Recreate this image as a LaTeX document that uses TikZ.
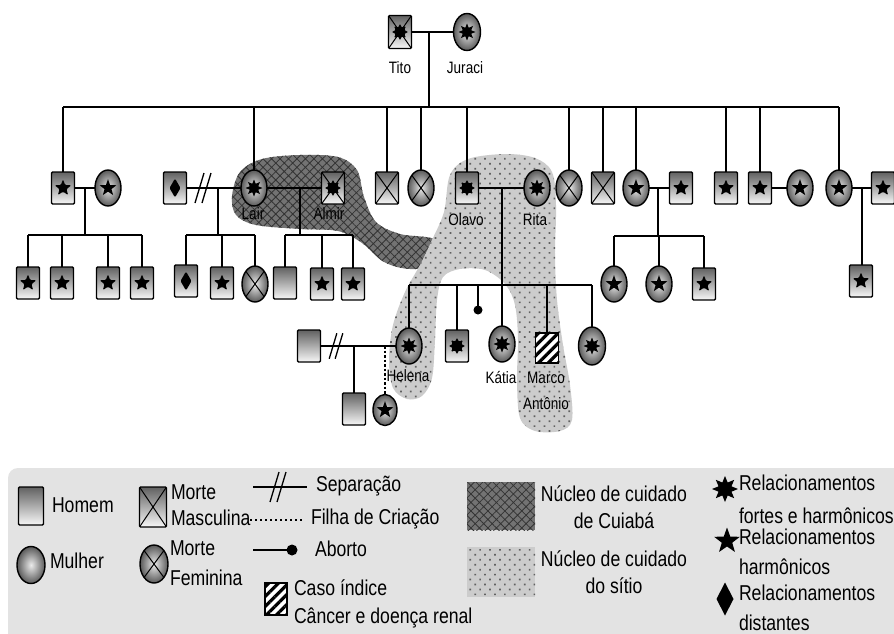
\documentclass[tikz,border=0pt]{standalone}
\usepackage{fontspec}
\setmainfont{Liberation Sans}[FakeStretch=0.82]
\usetikzlibrary{shapes.geometric,patterns.meta}
\newcommand\fivestar[3]{\fill[black,shift={#1}] (90:#2pt) \foreach \k in {1,...,9}{ -- ({90+\k*36}:{(mod(\k,2)==1?#3:#2)*1pt}) } -- cycle;}
\newcommand\eightstar[3]{\fill[black,shift={#1}] (90:#2pt) \foreach \k in {1,...,15}{ -- ({90+\k*22.5}:{(mod(\k,2)==1?#3:#2)*1pt}) } -- cycle;}
\newcommand\diamondsym[3]{\fill[black,shift={#1}] (0pt,#3pt) -- (#2pt,0pt) -- (0pt,-#3pt) -- (-#2pt,0pt) -- cycle;}
\tikzset{
  every node/.style={inner sep=0pt, outer sep=0pt},
  conn/.style={line width=1.5pt},
  male/.style={draw, line width=1.4pt, rounded corners=1.2pt, minimum width=23pt, minimum height=32pt, top color=black!62, bottom color=black!3},
  female/.style={draw, ellipse, line width=1.4pt, minimum width=26pt, minimum height=36pt, inner color=black!8, outer color=black!65},
  wstar/.style={path picture={\fivestar{(path picture bounding box.center)}{8.8}{3.6}}},
  wburst/.style={path picture={\eightstar{(path picture bounding box.center)}{8.5}{4.6}}},
  wdiam/.style={path picture={\diamondsym{(path picture bounding box.center)}{5.5}{9.5}}},
  wcross/.style={path picture={\draw[line width=1pt] (path picture bounding box.north west) -- (path picture bounding box.south east) (path picture bounding box.north east) -- (path picture bounding box.south west);}},
  wcrossburst/.style={path picture={\draw[line width=1pt] (path picture bounding box.north west) -- (path picture bounding box.south east) (path picture bounding box.north east) -- (path picture bounding box.south west); \eightstar{(path picture bounding box.center)}{8.5}{4.6}}},
  hatched/.style={draw, line width=1.4pt, minimum width=23pt, minimum height=30pt, preaction={fill=white}, pattern={Lines[angle=45,distance=7pt,line width=3.2pt]}},
  nm/.style={font=\fontsize{16.5}{18}\selectfont},
  lg/.style={font=\fontsize{21.5}{#1}\selectfont, anchor=west, align=left},
  lgc/.style={font=\fontsize{21.5}{#1}\selectfont, align=center},
  darkblob/.style={fill=black!55, postaction={pattern={Hatch[angle=45,distance=6pt,line width=0.8pt]}, pattern color=black!80}},
  lightblob/.style={fill=black!20, postaction={pattern={Dots[angle=45,distance=7pt,radius=1.2pt]}, pattern color=black!62}},
  sepmark/.pic={\draw[line width=1.3pt] (-8,15) -- (1,-15) (-1,15) -- (8,-15);},
}
\begin{document}
\begin{tikzpicture}[x=1pt,y=-1pt]
\useasboundingbox (0,0) rectangle (894,634);
\fill[white] (0,0) rectangle (894,634);
% care nuclei
\path[darkblob] plot[smooth cycle, tension=0.55] coordinates {(232,196) (240,172) (262,159) (300,155) (338,157) (357,170) (364,197) (376,222) (400,234) (436,240) (438,264) (410,269) (384,262) (362,243) (338,231) (300,229) (256,225) (236,215)};
\path[lightblob] plot[smooth cycle, tension=0.55] coordinates {(450,175) (468,159) (505,154) (535,158) (552,172) (556,205) (555,255) (557,300) (563,345) (570,385) (572,420) (560,431) (535,431) (520,418) (517,380) (518,340) (515,305) (505,284) (485,270) (460,269) (443,277) (437,300) (435,340) (432,378) (422,396) (407,399) (393,388) (389,360) (393,325) (405,292) (420,265) (432,240) (444,212)};

% generation 1
\node[male, wcrossburst, minimum height=33pt] (tito) at (400,32) {};
\node[female, wburst, minimum width=27pt, minimum height=37pt] (juraci) at (467,32) {};
\node[nm] (tito-l) at (400,68) {Tito};
\node[nm] (juraci-l) at (465,68) {Juraci};

% generation 2
\node[male, wstar] (a1) at (63,188) {};
\node[female, wstar] (a1w) at (108,188) {};
\node[male, wdiam] (b0) at (175,188) {};
\node[female, wburst] (lair) at (254,188) {};
\node[male, wcrossburst] (almir) at (333,188) {};
\node[male, wcross] (d1) at (387,188) {};
\node[female, wcross] (d2) at (421,188) {};
\node[male, wburst] (olavo) at (467,188) {};
\node[female, wburst] (rita) at (537,188) {};
\node[female, wcross] (d3) at (569,188) {};
\node[male, wcross] (d4) at (603,188) {};
\node[female, wstar] (e1) at (636,188) {};
\node[male, wstar] (e1h) at (681,188) {};
\node[male, wstar] (f1) at (726,188) {};
\node[male, wstar] (g1) at (760,188) {};
\node[female, wstar] (g1w) at (800,188) {};
\node[female, wstar] (h1) at (839,188) {};
\node[male, wstar] (h1h) at (883,188) {};
\node[nm] (lair-l) at (253,214) {Lair};
\node[nm] (almir-l) at (329,214) {Almir};
\node[nm] (olavo-l) at (466,220) {Olavo};
\node[nm] (rita-l) at (535,220) {Rita};

% generation 3
\node[male, wstar] (a2) at (28,283) {};
\node[male, wstar] (a3) at (62,283) {};
\node[male, wstar] (a4) at (108,283) {};
\node[male, wstar] (a5) at (142,283) {};
\node[male, wdiam] (b1) at (186,281) {};
\node[male, wstar] (b2) at (222,283) {};
\node[female, wcross] (b3) at (255,284) {};
\node[male] (c1) at (285,283) {};
\node[male, wstar] (c2) at (322,284) {};
\node[male, wstar] (c3) at (353,284) {};
\node[female, wstar] (e2) at (614,284) {};
\node[female, wstar] (e3) at (659,284) {};
\node[male, wstar] (e4) at (704,284) {};
\node[male, wstar] (h2) at (861,281) {};
\node[female, wburst] (helena) at (409,346) {};
\node[male, wburst] (k1) at (457,346) {};
\node[circle, fill=black, minimum size=9pt] (abo) at (478,310) {};
\node[female, wburst] (katia) at (502,344) {};
\node[hatched] (marco) at (547,348) {};
\node[female, wburst, minimum width=27pt, minimum height=38pt] (k5) at (592,346) {};
\node[male] (hx) at (309,346) {};
\node[nm] (helena-l) at (408,376) {Helena};
\node[nm] (katia-l) at (501,378) {Kátia};
\node[nm, align=center, font=\fontsize{16.5}{26}\selectfont] (marco-l) at (546,391) {Marco\\Antônio};

% generation 4
\node[male] (hx1) at (354,409) {};
\node[female, wstar, minimum width=24pt, minimum height=31pt] (hx2) at (385,410) {};

% connectors: generation 1
\draw[conn] (tito) -- (juraci);
\coordinate (tj) at (429,32);
\coordinate (sib) at (0,107);
\draw[conn] (tj) -- (tj |- sib);
\draw[conn] (a1.north |- sib) -- (h1.north |- sib);
\foreach \n in {a1,lair,d1,d2,olavo,d3,d4,e1,f1,g1,h1} \draw[conn] (\n.north) -- (\n.north |- sib);

% family a
\draw[conn] (a1) -- (a1w);
\coordinate (ad) at (85,188);
\coordinate (abar) at (0,235);
\draw[conn] (ad) -- (ad |- abar);
\draw[conn] (a2.north |- abar) -- (a5.north |- abar);
\foreach \n in {a2,a3,a4,a5} \draw[conn] (\n.north) -- (\n.north |- abar);

% family b
\draw[conn] (b0) -- (lair);
\path (203,188) pic {sepmark};
\coordinate (bd) at (218,188);
\draw[conn] (bd) -- (bd |- abar);
\draw[conn] (b1.north |- abar) -- (b3.north |- abar);
\foreach \n in {b1,b2,b3} \draw[conn] (\n.north) -- (\n.north |- abar);

% family c
\draw[conn] (lair) -- (almir);
\coordinate (cd) at (300,188);
\draw[conn] (cd) -- (cd |- abar);
\draw[conn] (c1.north |- abar) -- (c3.north |- abar);
\foreach \n in {c1,c2,c3} \draw[conn] (\n.north) -- (\n.north |- abar);

% family e
\draw[conn] (e1) -- (e1h);
\coordinate (ed) at (658,188);
\coordinate (ebar) at (0,236);
\draw[conn] (ed) -- (ed |- ebar);
\draw[conn] (e2.north |- ebar) -- (e4.north |- ebar);
\foreach \n in {e2,e3,e4} \draw[conn] (\n.north) -- (\n.north |- ebar);

% couples g, h
\draw[conn] (g1) -- (g1w);
\draw[conn] (h1) -- (h1h);
\coordinate (hd) at (862,188);
\draw[conn] (hd) -- (hd |- h2.north);

% family olavo-rita
\draw[conn] (olavo) -- (rita);
\coordinate (od) at (502,188);
\coordinate (obar) at (0,285);
\draw[conn] (od) -- (od |- obar);
\draw[conn] (helena.north |- obar) -- (k5.north |- obar);
\foreach \n in {helena,k1,katia,marco,k5} \draw[conn] (\n.north) -- (\n.north |- obar);
\draw[conn] (abo) -- (abo |- obar);

% family helena
\draw[conn] (hx) -- (helena);
\path (336,346) pic[scale=0.85] {sepmark};
\coordinate (hd1) at (354,346);
\draw[conn] (hd1) -- (hd1 |- hx1.north);
\coordinate (hd2) at (385,346);
\draw[conn, dash pattern=on 2.5pt off 2pt] (hd2) -- (hd2 |- hx2.north);

% legend
\fill[black!11, rounded corners=10pt] (8,468) rectangle (910,650);
\node[male, minimum width=25pt, minimum height=38pt] (lgm) at (31,506) {};
\node[lg=24] (lgm-t) at (52,505) {Homem};
\node[female, minimum width=28pt, minimum height=37pt] (lgf) at (31,565) {};
\node[lg=24] (lgf-t) at (50,561) {Mulher};
\node[male, wcross, minimum width=27pt, minimum height=40pt] (lgdm) at (153,507) {};
\node[lg=26] (lgdm-t) at (171,505) {Morte\\Masculina};
\node[female, wcross, minimum width=28pt, minimum height=38pt] (lgdf) at (154,564) {};
\node[lg=30] (lgdf-t) at (170,563) {Morte\\Feminina};
\coordinate (lgs0) at (253,487);
\coordinate (lgs1) at (307,487);
\draw[conn] (lgs0) -- (lgs1);
\path (278,487) pic {sepmark};
\node[lg=24] (lgs-t) at (316,486) {Separação};
\coordinate (lgd0) at (250,520);
\coordinate (lgd1) at (303,520);
\draw[line width=1.2pt, dash pattern=on 2pt off 3pt] (lgd0) -- (lgd1);
\node[lg=24] (lgd-t) at (311,519) {Filha de Criação};
\node[circle, fill=black, minimum size=11pt] (lgab) at (292,550) {};
\coordinate (lgab0) at (253,550);
\draw[conn] (lgab0) -- (lgab);
\node[lg=24] (lgab-t) at (315,549) {Aborto};
\node[hatched, minimum width=22pt, minimum height=32pt] (lgh) at (276,599) {};
\node[lg=28] (lgh-t) at (294,604) {Caso índice\\Câncer e doença renal};
\path[darkblob] (467,482) rectangle (535,530);
\node[lgc=27] (lgdark-t) at (614,507) {Núcleo de cuidado\\de Cuiabá};
\path[lightblob] (467,547) rectangle (535,597);
\node[lgc=27] (lglight-t) at (614,572) {Núcleo de cuidado\\do sítio};
\eightstar{(725,489)}{13}{7}
\node[lg=33] (lgb-t) at (739,499) {Relacionamentos\\fortes e harmônicos};
\fivestar{(727,541)}{13.5}{5.5}
\node[lg=30] (lgst-t) at (739,552) {Relacionamentos\\harmônicos};
\diamondsym{(725,599)}{8.5}{16.5}
\node[lg=30] (lgdi-t) at (739,608) {Relacionamentos\\distantes};
\end{tikzpicture}
\end{document}
